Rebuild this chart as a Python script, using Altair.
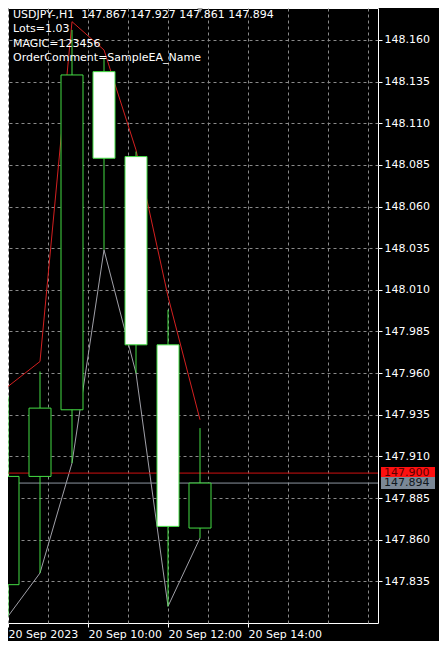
import altair as alt
import pandas as pd

# ---- data ----
bar_index = [0, 1, 2, 3, 4, 5, 6]
opens  = [147.833, 147.898, 147.938, 148.141, 148.090, 147.977, 147.867]
highs  = [147.946, 147.961, 148.166, 148.149, 148.093, 147.998, 147.927]
lows   = [147.814, 147.840, 147.906, 148.034, 147.960, 147.820, 147.861]
closes = [147.898, 147.939, 148.139, 148.089, 147.977, 147.868, 147.894]
ask_high_line = [147.952, 147.967, 148.171, 148.154, 148.094, 148.006, 147.932]

ask_price = 147.900
bid_price = 147.894

y_ticks = [147.835, 147.860, 147.885, 147.910, 147.935, 147.960, 147.985,
           148.010, 148.035, 148.060, 148.085, 148.110, 148.135, 148.160]
x_grid_values = [0, 1.25, 2.5, 3.75, 5.0, 6.25, 7.5, 8.75, 10.0, 11.25]
x_tick_values = [0, 2.5, 5.0, 7.5]
x_tick_labels = ["20 Sep 2023", "20 Sep 10:00", "20 Sep 12:00", "20 Sep 14:00"]

header_lines = ["USDJPY-,H1\u00a0 147.867 147.927 147.861 147.894",
                "Lots=1.03", "MAGIC=123456", "OrderComment=SampleEA_Name"]

# ---- tables ----
candles = pd.DataFrame({"idx": bar_index, "open": opens, "high": highs,
                        "low": lows, "close": closes, "askhigh": ask_high_line})
prices = pd.DataFrame({"name": ["ask", "bid"], "price": [ask_price, bid_price],
                       "label": [f"{ask_price:.3f}", f"{bid_price:.3f}"]})

FONT = "DejaVu Sans"
GREEN = "#44dd44"
GRID = "#8a8a8a"

label_expr = "".join(f"datum.value == {v} ? '{t}' : " for v, t in zip(x_tick_values, x_tick_labels)) + "''"
tick_test = " || ".join(f"datum.value == {v}" for v in x_tick_values)

x_scale = alt.Scale(domain=[0, 11.5625], nice=False, zero=False, padding=0)
y_scale = alt.Scale(domain=[147.810, 148.1792], nice=False, zero=False, padding=0)

x_axis = alt.Axis(values=x_grid_values, labelExpr=label_expr, title=None,
                  orient="bottom", domain=False, grid=True, gridColor=GRID,
                  gridDash=[3, 3], gridWidth=1, tickColor="white", tickSize=4,
                  tickOpacity={"condition": {"test": tick_test, "value": 1}, "value": 0},
                  labelColor="white", labelFont=FONT, labelFontSize=11,
                  labelAlign="left", labelBaseline="top", labelPadding=1,
                  labelOverlap=False, labelFlush=False, labelBound=False)
y_axis = alt.Axis(values=y_ticks, format=".3f", title=None, orient="right",
                  domain=False, grid=True, gridColor=GRID, gridDash=[3, 3],
                  gridWidth=1, tickColor="white", tickSize=4, labelColor="white",
                  labelFont=FONT, labelFontSize=11, labelPadding=2,
                  labelOverlap=False, labelFlush=False)

X = alt.X("idx:Q", scale=x_scale, axis=x_axis)

base = alt.Chart(candles)

red_line = base.mark_line(color="#d42020", strokeWidth=1, clip=True).encode(
    x=X, y=alt.Y("askhigh:Q", scale=y_scale, axis=y_axis))
gray_line = base.mark_line(color="#a0a0a8", strokeWidth=1, clip=True).encode(
    x=X, y=alt.Y("low:Q", scale=y_scale, axis=y_axis))

price_rules = alt.Chart(prices).mark_rule(strokeWidth=1).encode(
    y=alt.Y("price:Q", scale=y_scale, axis=y_axis),
    color=alt.Color("name:N", scale=alt.Scale(domain=["ask", "bid"],
                                              range=["#d01010", "#8c96a0"]), legend=None))

wicks = base.mark_rule(color=GREEN, strokeWidth=1, clip=True).encode(
    x=X, y=alt.Y("low:Q", scale=y_scale, axis=y_axis), y2="high:Q")

bodies = base.mark_bar(orient="vertical", size=22, stroke=GREEN, strokeWidth=1,
                       clip=True).encode(
    x=X, y=alt.Y("open:Q", scale=y_scale, axis=y_axis), y2="close:Q",
    fill=alt.condition("datum.close < datum.open", alt.value("white"), alt.value("black")))

header = alt.Chart(pd.DataFrame({"t": ["\n".join(header_lines)]})).mark_text(
    align="left", baseline="top", color="white", font=FONT, fontSize=11,
    lineBreak="\n", lineHeight=14.3).encode(
    text="t:N", x=alt.value(5), y=alt.value(1))

marker = alt.Chart(pd.DataFrame({"idx": [bar_index[-1]]})).mark_point(
    shape="triangle-down", filled=True, color="#a0a0a0", size=40, opacity=1).encode(
    x=X, y=alt.value(2))

ask_df = prices[prices["name"] == "ask"]
bid_df = prices[prices["name"] == "bid"]

ask_box = alt.Chart(ask_df).mark_bar(orient="horizontal", size=12, color="#ff1010").encode(
    y=alt.Y("price:Q", scale=y_scale, axis=y_axis), x=alt.value(373), x2=alt.value(427))
ask_text = alt.Chart(ask_df).mark_text(align="left", baseline="middle", color="#5a0000",
                                       font=FONT, fontSize=11).encode(
    y=alt.Y("price:Q", scale=y_scale, axis=y_axis), x=alt.value(376), text="label:N")
bid_box = alt.Chart(bid_df).mark_bar(orient="horizontal", size=12, color="#7b8896").encode(
    y=alt.Y("price:Q", scale=y_scale, axis=y_axis), x=alt.value(373), x2=alt.value(427))
bid_text = alt.Chart(bid_df).mark_text(align="left", baseline="middle", color="#101820",
                                       font=FONT, fontSize=11).encode(
    y=alt.Y("price:Q", scale=y_scale, axis=y_axis), x=alt.value(376), text="label:N")

chart = alt.layer(
    red_line, gray_line, price_rules, wicks, bodies, header, marker,
    ask_box, ask_text, bid_box, bid_text
).properties(
    width=370, height=615,
    autosize=alt.AutoSizeParams(type="none"),
    padding={"left": 0, "top": 0, "right": 61, "bottom": 18},
    background="black",
).configure_view(
    stroke="white", strokeWidth=1, fill="black"
)

chart.save("out.html", embed_options={"renderer": "svg", "actions": False})
